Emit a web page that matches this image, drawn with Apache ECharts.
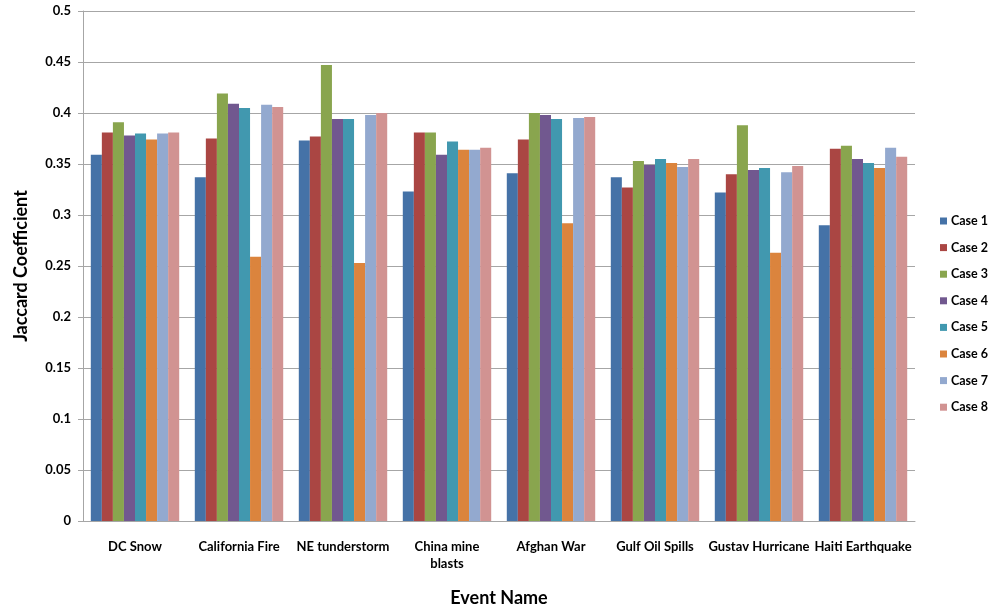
<!DOCTYPE html>
<html>
<head>
<meta charset="utf-8">
<script src="https://cdn.jsdelivr.net/npm/echarts@6/dist/echarts.min.js"></script>
<style>html,body{margin:0;padding:0;background:#fff;}#c{width:995px;height:612px;}</style>
</head>
<body>
<div id="c"></div>
<script>
const categories = ['DC Snow','California Fire','NE tunderstorm','China mine blasts','Afghan War','Gulf Oil Spills','Gustav Hurricane','Haiti Earthquake'];
const seriesNames = ['Case 1','Case 2','Case 3','Case 4','Case 5','Case 6','Case 7','Case 8'];
const case1 = [0.359, 0.337, 0.373, 0.323, 0.341, 0.337, 0.322, 0.290];
const case2 = [0.381, 0.375, 0.377, 0.381, 0.374, 0.327, 0.340, 0.365];
const case3 = [0.391, 0.419, 0.447, 0.381, 0.400, 0.353, 0.388, 0.368];
const case4 = [0.378, 0.409, 0.394, 0.359, 0.398, 0.349, 0.344, 0.355];
const case5 = [0.380, 0.405, 0.394, 0.372, 0.394, 0.355, 0.346, 0.351];
const case6 = [0.374, 0.259, 0.253, 0.364, 0.292, 0.351, 0.263, 0.346];
const case7 = [0.380, 0.408, 0.398, 0.364, 0.395, 0.347, 0.342, 0.366];
const case8 = [0.381, 0.406, 0.400, 0.366, 0.396, 0.355, 0.348, 0.357];
const yTicks = [0, 0.05, 0.1, 0.15, 0.2, 0.25, 0.3, 0.35, 0.4, 0.45, 0.5];
const colors = ['#4572A7','#AA4643','#89A54E','#71588F','#4198AF','#DB843D','#93A9CF','#D19392'];
const allData = [case1, case2, case3, case4, case5, case6, case7, case8];

const font = 'Lato, "Open Sans", sans-serif';
const chart = echarts.init(document.getElementById('c'));
chart.setOption({
  animation: false,
  color: colors,
  grid: {left: 83, right: 80, top: 11, bottom: 87, containLabel: false},
  legend: {
    orient: 'vertical', left: 935, top: 209,
    itemWidth: 7, itemHeight: 7, itemGap: 12.6,
    icon: 'rect',
    data: seriesNames,
    textStyle: {fontFamily: font, fontWeight: 'bold', fontSize: 12.5, color: '#000', lineHeight: 14, padding: [0,0,0,-1]}
  },
  xAxis: {
    type: 'category', data: categories,
    name: 'Event Name', nameLocation: 'middle', nameGap: 68,
    nameTextStyle: {fontFamily: font, fontWeight: 'bold', fontSize: 18, color: '#000'},
    axisLine: {lineStyle: {color: '#a6a6a6', width: 1}},
    axisTick: {show: false},
    axisLabel: {
      interval: 0, margin: 17, fontFamily: font, fontWeight: 'bold', fontSize: 13, color: '#000', lineHeight: 17,
      formatter: v => v === 'China mine blasts' ? 'China mine\nblasts' : v
    }
  },
  yAxis: {
    type: 'value', min: 0, max: 0.5, interval: 0.05,
    name: 'Jaccard Coefficient', nameLocation: 'middle', nameGap: 53,
    nameTextStyle: {fontFamily: font, fontWeight: 'bold', fontSize: 18, color: '#000'},
    axisLine: {show: true, lineStyle: {color: '#a6a6a6'}},
    axisTick: {show: true, length: 5, lineStyle: {color: '#a6a6a6'}},
    splitLine: {lineStyle: {color: '#a6a6a6', width: 1}},
    axisLabel: {
      margin: 12, fontFamily: font, fontWeight: 'bold', fontSize: 13, color: '#000',
      formatter: v => { const t = yTicks.find(x => Math.abs(x - v) < 1e-9); return t === undefined ? '' : String(t); }
    }
  },
  series: seriesNames.map((n, i) => ({
    name: n, type: 'bar', data: allData[i],
    barGap: '0%', barCategoryGap: '15%',
    itemStyle: {color: colors[i]}
  }))
});
</script>
</body>
</html>
